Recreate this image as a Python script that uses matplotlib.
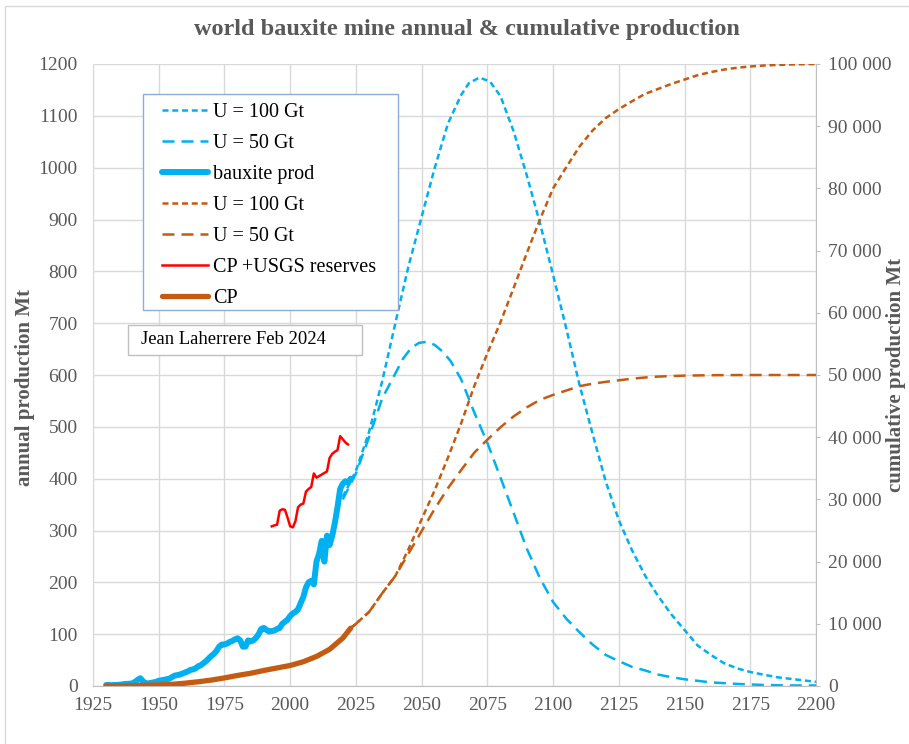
import matplotlib
matplotlib.use("Agg")
import matplotlib.pyplot as plt
from matplotlib.lines import Line2D
from matplotlib.patches import Rectangle

plt.rcParams['font.family'] = ['Liberation Serif', 'DejaVu Serif']

# bauxite mine production, Mt/yr
prod_years = list(range(1930, 2024))
prod = [2, 2, 1.5, 2, 2, 2.5, 3, 4, 4, 4.5,
        5, 8, 12, 15, 9, 5, 5, 6, 7, 8,
        10, 11, 12, 13, 14, 17, 20, 21, 22, 24,
        26, 28, 31, 32, 34, 38, 40, 44, 48, 53,
        58, 62, 68, 76, 80, 80, 82, 85, 87, 90,
        92, 88, 76, 76, 88, 86, 88, 93, 100, 110,
        112, 108, 105, 106, 107, 110, 112, 120, 124, 128,
        135, 140, 143, 148, 160, 172, 190, 200, 203, 196,
        240, 255, 280, 240, 290, 272, 290, 315, 345, 380,
        390, 395, 392, 400]

# cumulative production, Mt
cp_years = [1930, 1935, 1940, 1945, 1950, 1955, 1960, 1965, 1970, 1975,
            1980, 1985, 1990, 1995, 2000, 2005, 2010, 2015, 2020, 2023]
cp = [0, 30, 70, 130, 180, 270, 450, 680, 950, 1300,
      1700, 2050, 2500, 2900, 3300, 3900, 4750, 5900, 7700, 9300]

# cumulative production + USGS reserves, Mt
res_years = list(range(1993, 2023))
cp_res = [25670, 25830, 25920, 28170, 28420, 28330, 27080, 25670, 25500, 26500,
          28750, 29170, 29330, 31250, 31670, 32000, 34170, 33500, 33750, 34000,
          34250, 34500, 36670, 37330, 37670, 37920, 40170, 39670, 39170, 38830]

# annual production models, Mt/yr
m100_years = [2020, 2025, 2030, 2035, 2040, 2045, 2050, 2055, 2060, 2065,
              2068, 2072, 2076, 2080, 2085, 2090, 2095, 2100, 2105, 2110,
              2115, 2120, 2125, 2130, 2135, 2140, 2145, 2150, 2155, 2160,
              2165, 2170, 2175, 2180, 2185, 2190, 2195, 2200]
m100 = [365, 415, 490, 588, 700, 810, 905, 1000, 1085, 1140,
        1163, 1174, 1166, 1138, 1070, 985, 893, 793, 690, 582,
        487, 395, 320, 262, 213, 173, 138, 108, 78, 60,
        44, 34, 27, 22, 17, 14, 11, 8]

m50_years = [2020, 2025, 2030, 2035, 2040, 2043, 2046, 2049, 2052, 2055,
             2058, 2061, 2065, 2070, 2075, 2080, 2085, 2090, 2095, 2100,
             2105, 2110, 2115, 2120, 2125, 2130, 2135, 2140, 2145, 2150,
             2160, 2170, 2180, 2190, 2200]
m50 = [360, 410, 480, 555, 603, 632, 652, 662, 664, 658,
       645, 627, 592, 528, 469, 402, 334, 265, 208, 162,
       130, 104, 80, 60, 48, 37, 30, 22, 17, 13,
       7, 4, 2, 1, 1]

# cumulative models, Mt
c100_years = [2023, 2025, 2030, 2035, 2040, 2045, 2050, 2055, 2060, 2065,
              2070, 2075, 2080, 2085, 2090, 2095, 2100, 2105, 2110, 2115,
              2120, 2125, 2130, 2135, 2140, 2145, 2150, 2155, 2160, 2165,
              2170, 2175, 2180, 2185, 2190, 2195, 2200]
c100 = [9300, 10000, 11900, 14900, 17700, 22000, 26800, 31500, 36700, 42200,
        48200, 53500, 58500, 64000, 69600, 75000, 80000, 83400, 86700, 89300,
        91300, 92750, 94000, 95200, 96000, 96800, 97500, 98200, 98700, 99100,
        99400, 99600, 99750, 99850, 99920, 99970, 100000]

c50_years = [2023, 2025, 2030, 2035, 2040, 2045, 2050, 2055, 2060, 2065,
             2070, 2075, 2080, 2085, 2090, 2095, 2100, 2105, 2110, 2115,
             2120, 2125, 2130, 2135, 2140, 2150, 2160, 2175, 2200]
c50 = [9300, 10000, 11900, 14900, 17700, 21300, 24900, 28500, 31800, 34700,
       37500, 39600, 41600, 43350, 44800, 46000, 46800, 47500, 48200, 48600,
       48900, 49150, 49400, 49600, 49750, 49900, 49970, 50000, 50000]

blue = '#00b0f0'
brown = '#c55a11'
red = '#ff0000'
grey = '#595959'
short_dash = (0, (2.4, 1.5))
long_dash = (0, (4.8, 2.8))

fig = plt.figure(figsize=(9.09, 7.44), dpi=100)
ax = fig.add_axes([93 / 909, 58 / 744, 723 / 909, 622 / 744])
ax2 = ax.twinx()

ax.plot(m100_years, m100, color=blue, lw=1.8, ls=short_dash)
ax.plot(m50_years, m50, color=blue, lw=1.8, ls=long_dash)
ax.plot(prod_years, prod, color=blue, lw=4.3, solid_capstyle='round')

ax2.plot(c100_years, c100, color=brown, lw=1.8, ls=short_dash)
ax2.plot(c50_years, c50, color=brown, lw=1.8, ls=long_dash)
ax2.plot(res_years, cp_res, color=red, lw=1.8)
ax2.plot(cp_years, cp, color=brown, lw=3.8, solid_capstyle='round')

ax.set_xlim(1925, 2200)
ax.set_ylim(0, 1200)
ax2.set_ylim(0, 100000)
ax.set_xticks(range(1925, 2201, 25))
ax.set_yticks(range(0, 1201, 100))
ax2.set_yticks(range(0, 100001, 10000))
ax2.set_yticklabels([f"{v:,}".replace(",", " ") for v in range(0, 100001, 10000)])

ax.grid(True, color='#d9d9d9', lw=1.0)
ax.set_axisbelow(True)

ax.tick_params(axis='both', length=0, labelsize=14, labelcolor=grey)
ax.tick_params(axis='y', pad=11)
ax.tick_params(axis='x', pad=8)
ax2.tick_params(axis='y', length=3, color='#bfbfbf', labelsize=14, labelcolor=grey, pad=6)

ax.spines['top'].set_visible(False)
ax2.spines['top'].set_visible(False)
ax.spines['left'].set_color('#d9d9d9')
ax2.spines['left'].set_visible(False)
ax.spines['right'].set_visible(False)
ax2.spines['bottom'].set_visible(False)
ax.spines['bottom'].set_color('#bfbfbf')
ax2.spines['right'].set_color('#bfbfbf')

fig.text(467 / 909, 1 - 30 / 744, 'world bauxite mine annual & cumulative production',
         ha='center', va='center', fontsize=17.5, fontweight='bold', color=grey)
fig.text(25 / 909, 1 - 387 / 744, 'annual production Mt', rotation=90,
         ha='center', va='center', fontsize=15, fontweight='bold', color=grey)
fig.text(896 / 909, 1 - 375 / 744, 'cumulative production Mt', rotation=90,
         ha='center', va='center', fontsize=15, fontweight='bold', color=grey)

# outer chart border
fig.patches.append(Rectangle((5 / 909, -0.1), 1.2, 1.1 - 6 / 744, transform=fig.transFigure,
                             fill=False, edgecolor='#d9d9d9', lw=1, zorder=-1))

# legend box
fig.patches.append(Rectangle((143 / 909, 1 - 310 / 744), 255 / 909, 216 / 744,
                             transform=fig.transFigure, facecolor='white',
                             edgecolor='#8faadc', lw=1, zorder=3))
handles = [
    Line2D([], [], color=blue, lw=1.8, ls=short_dash),
    Line2D([], [], color=blue, lw=1.8, ls=long_dash),
    Line2D([], [], color=blue, lw=4.3, solid_capstyle='round'),
    Line2D([], [], color=brown, lw=1.8, ls=short_dash),
    Line2D([], [], color=brown, lw=1.8, ls=long_dash),
    Line2D([], [], color=red, lw=1.8),
    Line2D([], [], color=brown, lw=3.8, solid_capstyle='round'),
]
labels = ['U = 100 Gt', 'U = 50 Gt', 'bauxite prod', 'U = 100 Gt', 'U = 50 Gt',
          'CP +USGS reserves', 'CP']
leg = fig.legend(handles, labels, loc='upper left',
                 bbox_to_anchor=(162 / 909, 1 - 103 / 744), frameon=False,
                 fontsize=14.5, borderpad=0, handlelength=2.3, handletextpad=0.25,
                 labelspacing=0.59, borderaxespad=0)
leg.set_zorder(5)

# author box
fig.patches.append(Rectangle((128 / 909, 1 - 355 / 744), 234 / 909, 30 / 744,
                             transform=fig.transFigure, facecolor='white',
                             edgecolor='#bfbfbf', lw=1, zorder=3))
fig.text(141 / 909, 1 - 340 / 744, 'Jean Laherrere Feb 2024', ha='left', va='center',
         fontsize=13.4, color='black', zorder=4)

fig.savefig('out.png', dpi=100)
